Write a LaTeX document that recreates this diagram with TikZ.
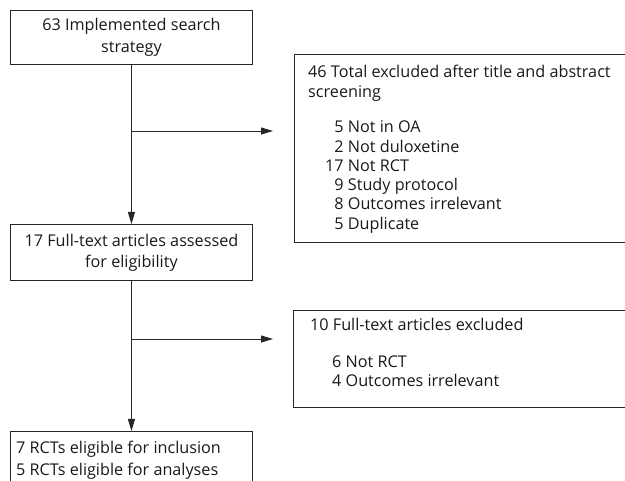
\documentclass[tikz,border=0pt]{standalone}
\usepackage{fontspec}
\setmainfont{Open Sans}
\usetikzlibrary{arrows.meta,calc}
\tikzset{
  box/.style={draw=black!85, line width=0.9pt, inner sep=0pt, anchor=north west},
  txt/.style={font=\fontsize{16.2}{20}\selectfont, text=black!90, inner sep=0pt},
  arr/.style={draw=black!85, line width=0.9pt, -{Triangle[length=12pt,width=7pt]}},
}
\begin{document}
\begin{tikzpicture}[x=1pt,y=-1pt]
\useasboundingbox (0,0) rectangle (625,481);
\clip (0,0) rectangle (625,481);
% boxes
\node[box, minimum width=242pt, minimum height=54pt] (b1) at (10,10) {};
\node[box, minimum width=242pt, minimum height=56pt] (b2) at (10,224) {};
\node[box, minimum width=242pt, minimum height=80pt] (b3) at (10,431) {};
\node[box, minimum width=350pt, minimum height=188pt] (r1) at (294,54) {};
\node[box, minimum width=350pt, minimum height=97pt] (r2) at (293,310) {};
% texts
\node[txt, align=center, font=\fontsize{16.2}{22}\selectfont] (t1) at (b1.center) {63 Implemented search\\strategy};
\node[txt, align=center, font=\fontsize{16.2}{21}\selectfont] (t2) at (b2.center) {17 Full-text articles assessed\\for eligibility};
\node[txt, align=left, anchor=north west, font=\fontsize{16.2}{22}\selectfont] (t3) at (16,441) {7 RCTs eligible for inclusion\\5 RCTs eligible for analyses};
\node[txt, align=left, anchor=north west] (t4) at (308,65) {46 Total excluded after title and abstract\\screening};
\node[txt, anchor=north west, font=\fontsize{16.2}{19.3}\selectfont] (t5) at (325,119) {\begin{tabular}{@{}r@{ }l@{}}
5 & Not in OA\\
2 & Not duloxetine\\
17 & Not RCT\\
9 & Study protocol\\
8 & Outcomes irrelevant\\
5 & Duplicate
\end{tabular}};
\node[txt, anchor=north west] (t6) at (310,318) {10 Full-text articles excluded};
\node[txt, align=left, anchor=north west, font=\fontsize{16.2}{19}\selectfont] (t7) at (332,356) {6 Not RCT\\4 Outcomes irrelevant};
% connectors
\coordinate (j1) at (131,131);
\coordinate (e1) at (273,131);
\coordinate (j2) at (131,339);
\coordinate (e2) at (273,339);
\draw[arr] (b1.south) -- (b2.north);
\draw[arr] (b2.south) -- (b3.north);
\draw[arr] (j1) -- (e1);
\draw[arr] (j2) -- (e2);
\end{tikzpicture}
\end{document}
